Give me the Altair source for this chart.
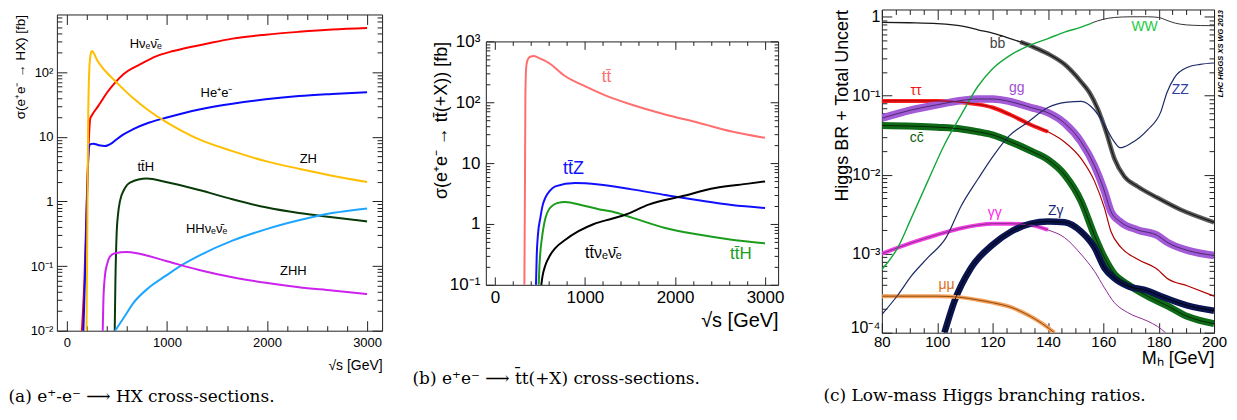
import math
import altair as alt
import pandas as pd

# ---------------- panel (a): e+e- -> HX cross-sections [fb] ----------------
a_hvv_x = [150, 175, 200, 218, 233, 250, 300, 332, 400, 482, 565, 731, 897, 1063, 1396, 1654, 1987, 2319, 2651, 3000]
a_hvv_y = [0.01, 0.06, 1.2, 8, 19, 21.5, 28, 33, 48, 69, 93, 132, 177, 212, 275, 330, 380, 420, 455, 480]
a_hee_x = [165, 185, 200, 212, 222, 235, 265, 320, 380, 450, 492, 558, 658, 824, 990, 1322, 1654, 1987, 2319, 2651, 3000]
a_hee_y = [0.01, 0.1, 1.0, 4.0, 7.0, 7.7, 7.8, 7.4, 7.2, 8.0, 9.0, 10.7, 13, 16.6, 19.7, 26.5, 32.5, 38, 42.7, 46, 49]
a_zh_x = [196, 205, 212, 222, 235, 250, 270, 300, 350, 400, 490, 658, 824, 990, 1322, 1654, 1987, 2319, 2651, 3000]
a_zh_y = [0.01, 0.5, 15, 90, 180, 212, 195, 155, 120, 98, 71, 40, 25, 17, 9.1, 6.0, 4.2, 3.2, 2.5, 2.0]
a_tth_x = [478, 485, 497, 512, 531, 570, 631, 798, 990, 1322, 1654, 1987, 2319, 2651, 3000]
a_tth_y = [0.01, 0.06, 0.31, 0.65, 1.02, 1.5, 1.96, 2.26, 2.0, 1.5, 1.08, 0.81, 0.66, 0.57, 0.49]
a_zhh_x = [358, 365, 380, 400, 430, 480, 598, 724, 990, 1322, 1654, 1987, 2319, 2651, 3000]
a_zhh_y = [0.01, 0.03, 0.07, 0.105, 0.14, 0.158, 0.165, 0.155, 0.12, 0.087, 0.067, 0.055, 0.047, 0.042, 0.037]
a_hhvv_x = [482, 591, 658, 824, 990, 1156, 1322, 1654, 1987, 2319, 2651, 3000]
a_hhvv_y = [0.01, 0.018, 0.026, 0.047, 0.071, 0.105, 0.145, 0.247, 0.37, 0.51, 0.66, 0.78]

a_label_text = ["Hνₑν̄ₑ", "He⁺e⁻", "ZH", "tt̄H", "HHνₑν̄ₑ", "ZHH"]
a_label_x = [788, 1495, 2413, 788, 1396, 2263]
a_label_y = [270, 47.5, 4.55, 3.43, 0.38, 0.085]
a_y_ticks = [0.01, 0.1, 1, 10, 100]
a_y_tick_labels = ["10⁻²", "10⁻¹", "1", "10", "10²"]
a_x_ticks = [0, 1000, 2000, 3000]

# ---------------- panel (b): e+e- -> tt(+X) cross-sections [fb] ----------------
b_tt_x = [328, 334, 339, 344, 352, 370, 400, 431, 480, 598, 783, 1005, 1226, 1522, 1891, 2261, 2630, 3000]
b_tt_y = [0.1, 3, 110, 280, 420, 520, 565, 578, 540, 443, 268, 182, 130, 91, 63, 46, 33, 26]
b_ttz_x = [457, 465, 480, 505, 530, 561, 610, 671, 893, 1153, 1522, 1891, 2261, 2630, 3000]
b_ttz_y = [0.1, 0.3, 0.7, 1.25, 2.0, 2.7, 3.5, 4.15, 4.7, 4.45, 3.7, 3.0, 2.45, 2.05, 1.83]
b_tth_x = [487, 495, 508, 523, 550, 579, 630, 690, 782, 968, 1153, 1300, 1522, 1891, 2261, 2630, 3000]
b_tth_y = [0.1, 0.2, 0.38, 0.59, 1.05, 1.5, 1.95, 2.2, 2.3, 2.03, 1.75, 1.6, 1.27, 0.86, 0.67, 0.55, 0.48]
b_ttvv_x = [516, 530, 561, 610, 671, 783, 929, 1100, 1298, 1448, 1707, 2076, 2446, 2815, 3000]
b_ttvv_y = [0.1, 0.14, 0.21, 0.30, 0.40, 0.55, 0.76, 1.0, 1.22, 1.42, 2.08, 2.85, 3.9, 4.6, 5.0]

b_label_text = ["tt̄", "tt̄Z", "tt̄νₑν̄ₑ", "tt̄H"]
b_label_x = [1239, 874, 1206, 2732]
b_label_y = [264, 7.9, 0.33, 0.32]
b_y_ticks = [0.1, 1, 10, 100, 1000]
b_y_tick_labels = ["10⁻¹", "1", "10", "10²", "10³"]
b_x_ticks = [0, 1000, 2000, 3000]

# ---------------- panel (c): low-mass Higgs branching ratios ----------------
c_bb_x = [80, 90, 100, 110, 115, 120, 125, 130, 135, 140, 146, 152, 155, 158, 161, 164, 167.6, 172.4, 179.6, 188, 200]
c_bb_y = [0.85, 0.84, 0.82, 0.75, 0.68, 0.62, 0.55, 0.48, 0.41, 0.34, 0.25, 0.15, 0.11, 0.068, 0.035, 0.016, 0.0095, 0.0071, 0.0051, 0.0036, 0.0025]
c_ww_x = [80, 85.8, 90.6, 96.6, 102.6, 108.6, 114.6, 120, 126.6, 133.8, 140, 146, 152, 156, 160, 164, 170, 176, 180, 183, 186, 190, 195, 200]
c_ww_y = [6.3e-4, 1.2e-3, 2.8e-3, 8.3e-3, 0.024, 0.057, 0.13, 0.22, 0.33, 0.44, 0.53, 0.64, 0.74, 0.84, 0.93, 0.98, 1.0, 1.0, 0.98, 0.90, 0.83, 0.79, 0.775, 0.77]
c_zz_x = [80, 85.8, 90.6, 96.6, 103.2, 108.6, 114.6, 120.6, 126, 132.6, 140, 147, 152, 156.8, 160.4, 164, 166, 170, 176, 180.8, 183, 185.7, 190.5, 195, 200]
c_zz_y = [1.7e-4, 3.0e-4, 5.2e-4, 8.9e-4, 1.6e-3, 4.0e-3, 8.7e-3, 0.018, 0.031, 0.046, 0.071, 0.083, 0.085, 0.066, 0.043, 0.026, 0.022, 0.025, 0.037, 0.063, 0.11, 0.17, 0.23, 0.25, 0.26]
c_tautau_x = [80, 90, 100, 108.6, 114.6, 120, 126.6, 133.8, 140, 146, 152, 156.8, 160.4, 162.8, 166.4, 172.4, 179.6, 183, 190.5, 200]
c_tautau_y = [0.086, 0.086, 0.086, 0.083, 0.078, 0.071, 0.057, 0.043, 0.035, 0.026, 0.016, 0.0083, 0.0038, 0.0019, 0.0012, 8.5e-4, 6.3e-4, 4.9e-4, 3.9e-4, 2.9e-4]
c_gg_x = [80, 90.6, 100, 108.6, 114.6, 120, 126.6, 133.8, 140, 146, 152, 156.8, 160.4, 162.8, 166.4, 172.4, 179.6, 183, 190.5, 200]
c_gg_y = [0.052, 0.066, 0.077, 0.087, 0.091, 0.091, 0.084, 0.071, 0.061, 0.045, 0.026, 0.013, 0.0062, 0.0034, 0.0025, 0.0020, 0.0017, 0.0014, 0.0011, 9.5e-4]
c_cc_x = [80, 100, 108.6, 114.6, 120, 126.6, 133.8, 140, 146, 152, 156.8, 160.4, 164, 168.8, 176, 183, 190.5, 200]
c_cc_y = [0.042, 0.040, 0.038, 0.035, 0.032, 0.026, 0.020, 0.0155, 0.010, 0.0046, 0.0017, 8.9e-4, 5.5e-4, 4.1e-4, 2.9e-4, 2.2e-4, 1.6e-4, 1.3e-4]
c_aa_x = [80, 90.6, 100, 108.6, 114.6, 120, 126.6, 133.8, 140, 146, 152, 156.8, 160.4, 164, 168.8, 176, 179.6, 182.5]
c_aa_y = [1.0e-3, 1.37e-3, 1.74e-3, 2.1e-3, 2.3e-3, 2.4e-3, 2.4e-3, 2.3e-3, 2.0e-3, 1.6e-3, 9.8e-4, 6.0e-4, 3.7e-4, 2.4e-4, 1.8e-4, 1.4e-4, 1.2e-4, 1.0e-4]
c_za_x = [102.6, 106.2, 112.2, 120, 126.6, 133.8, 140, 146, 152, 156.8, 160.4, 164, 168.8, 176, 180.8, 190.5, 200]
c_za_y = [1e-4, 2.5e-4, 6.6e-4, 1.3e-3, 1.9e-3, 2.4e-3, 2.55e-3, 2.5e-3, 1.9e-3, 1.2e-3, 6.6e-4, 4.9e-4, 3.9e-4, 3.4e-4, 2.9e-4, 2.2e-4, 1.9e-4]
c_mumu_x = [80, 100, 108.6, 114.6, 120, 126.6, 133.8, 138, 142.3]
c_mumu_y = [2.9e-4, 2.9e-4, 2.8e-4, 2.6e-4, 2.4e-4, 2.1e-4, 1.6e-4, 1.3e-4, 1.0e-4]

c_label_text = ["bb̄", "WW", "ττ", "gg", "ZZ", "cc̄", "γγ", "Zγ", "μμ"]
c_label_x = [121.8, 174.9, 92.3, 128.7, 187.8, 92.6, 120.8, 142.8, 103.4]
c_label_y = [0.447, 0.748, 0.115, 0.124, 0.119, 0.0296, 0.0033, 0.0035, 4.0e-4]
c_y_ticks = [1e-4, 1e-3, 1e-2, 1e-1, 1]
c_y_tick_labels = ["10⁻⁴", "10⁻³", "10⁻²", "10⁻¹", "1"]
c_x_ticks = [80, 100, 120, 140, 160, 180, 200]

# ---------------- styling / helpers ----------------
FONT = "Liberation Sans"
SERIF = "DejaVu Serif"
H = 324  # common group height; frames placed via custom y ranges


def long_df(series, colors, widths=None):
    rows = []
    for name, (xs, ys) in series.items():
        for x, y in zip(xs, ys):
            rows.append({"series": name, "x": x, "y": y, "col": colors[name],
                         "w": (widths or {}).get(name, 1)})
    return pd.DataFrame(rows)


def labels_df(texts, xs, ys, colors, sizes):
    return pd.DataFrame({"label": texts, "x": xs, "y": ys, "col": colors, "fs": sizes})


def log_ticks(lo, hi):
    vals = []
    e = math.floor(math.log10(lo))
    while 10 ** e <= hi * 1.0001:
        for m in range(1, 10):
            v = round(m * 10 ** e, 12)
            if lo * 0.9999 <= v <= hi * 1.0001:
                vals.append(v)
        e += 1
    return vals


def sup_label_expr(vals, labs):
    parts = []
    for v, l in zip(vals, labs):
        k = round(math.log10(v))
        parts.append(f"abs(log(datum.value)/LN10 - ({k})) < 0.01 ? '{l}'")
    return " : ".join(parts) + " : ''"


TEST_LOG = "abs(log(datum.value)/LN10 - round(log(datum.value)/LN10)) < 0.001"


def build_panel(lines, labels, W, x_dom, y_dom, y_range, x_major, x_all, x_test,
                y_major, y_major_labels, tick_major, tick_minor,
                xlab_fs, xlab_pad, ylab_fs, ylab_pad,
                x_title, x_title_fs, x_title_y, y_title, y_title_fs, y_title_x,
                caption, cap_x, cap_y, line_width, bands=None, centers=None, lhc=False,
                raise_bottom_label=False):
    rb, rt = y_range
    xs = alt.Scale(domain=x_dom, nice=False, zero=False)
    ys = alt.Scale(type="log", domain=y_dom, range=[rb, rt], nice=False)
    y_all = log_ticks(y_dom[0], y_dom[1])
    off_bottom = -(H - rb)

    def taxis(orient, offset, values, test):
        return alt.Axis(orient=orient, offset=offset, values=values, labels=False, title=None,
                        grid=False, domain=True, domainColor="#222", domainWidth=1,
                        ticks=True, tickColor="#222", tickWidth=1,
                        tickSize={"condition": {"test": test, "value": tick_major}, "value": tick_minor})

    tA = alt.Chart(lines).mark_line(strokeOpacity=0).encode(
        x=alt.X("x:Q", scale=xs, axis=taxis("top", -rb, x_all, x_test)),
        y=alt.Y("y:Q", scale=ys, axis=taxis("right", -W, y_all, TEST_LOG)),
        detail="series:N")
    tB = alt.Chart(lines).mark_line(strokeOpacity=0).encode(
        x=alt.X("x:Q", scale=xs, axis=taxis("bottom", -(H - rt), x_all, x_test)),
        y=alt.Y("y:Q", scale=ys, axis=taxis("left", -W, y_all, TEST_LOG)),
        detail="series:N")

    main_x = alt.Axis(orient="bottom", offset=off_bottom, values=x_major, format="d",
                      ticks=False, tickSize=0, domain=False, grid=False,
                      labelFontSize=xlab_fs, labelPadding=xlab_pad, labelFlush=False, labelOverlap=False,
                      title=x_title, titleFontSize=x_title_fs, titleAnchor="end", titleAlign="right",
                      titleY=x_title_y, titleBaseline="middle")
    y_kw = {}
    if raise_bottom_label:
        y_kw["labelBaseline"] = {"condition": {"test": f"datum.value < {y_dom[0] * 2}", "value": "alphabetic"},
                                 "value": "middle"}
    main_y = alt.Axis(orient="left", values=y_major, labelExpr=sup_label_expr(y_major, y_major_labels),
                      ticks=False, tickSize=0, domain=False, grid=False,
                      labelFontSize=ylab_fs, labelPadding=ylab_pad, labelFlush=False, labelOverlap=False,
                      title=y_title, titleFontSize=y_title_fs, titleAnchor="end", titleAngle=270,
                      titleAlign="right", titleX=y_title_x, titleBaseline="middle", **y_kw)

    layers = [tA, tB]
    if bands is not None:
        layers.append(alt.Chart(bands).mark_line(interpolate="monotone", strokeCap="butt", clip=True).encode(
            x=alt.X("x:Q", scale=xs, axis=None), y=alt.Y("y:Q", scale=ys, axis=None),
            color=alt.Color("col:N", scale=None),
            strokeWidth=alt.StrokeWidth("w:Q", scale=None), detail="series:N"))
    layers.append(alt.Chart(lines).mark_line(interpolate="monotone", clip=True).encode(
        x=alt.X("x:Q", scale=xs, axis=main_x), y=alt.Y("y:Q", scale=ys, axis=main_y),
        color=alt.Color("col:N", scale=None),
        strokeWidth=alt.StrokeWidth("w:Q", scale=None) if centers else alt.value(line_width),
        detail="series:N"))

    cap_axis = alt.Axis(orient="bottom", offset=off_bottom, labels=False, ticks=False, domain=False,
                        grid=False, title=caption, titleX=cap_x, titleY=cap_y, titleAlign="left",
                        titleAnchor="start", titleBaseline="alphabetic", titleFont=SERIF,
                        titleFontSize=17, titleFontWeight="normal", titleColor="#000")
    if lhc:
        y_lab_axis = alt.Axis(orient="right", labels=False, ticks=False, domain=False, grid=False,
                              title="LHC HIGGS XS WG 2013", titleAngle=270, titleAnchor="end",
                              titleAlign="right", titleBaseline="middle", titleX=6,
                              titleFontSize=7.5, titleFontStyle="italic", titleFontWeight="bold")
    else:
        y_lab_axis = None
    layers.append(alt.Chart(labels).mark_text(font=FONT).encode(
        x=alt.X("x:Q", scale=xs, axis=cap_axis), y=alt.Y("y:Q", scale=ys, axis=y_lab_axis),
        text="label:N", color=alt.Color("col:N", scale=None), size=alt.Size("fs:Q", scale=None)))

    return alt.layer(*layers).resolve_axis(x="independent", y="independent").properties(width=W, height=H)


# ---- panel (a)
a_colors = {"Hvv": "#ff0000", "Hee": "#0a0aff", "ZH": "#ffbf00", "ttH": "#083a08",
            "HHvv": "#1ea5ff", "ZHH": "#cc22ee"}
a_lines = long_df({"Hvv": (a_hvv_x, a_hvv_y), "Hee": (a_hee_x, a_hee_y), "ZH": (a_zh_x, a_zh_y),
                   "ttH": (a_tth_x, a_tth_y), "HHvv": (a_hhvv_x, a_hhvv_y), "ZHH": (a_zhh_x, a_zhh_y)},
                  a_colors)
a_labels = labels_df(a_label_text, a_label_x, a_label_y, ["#000"] * 6, [13] * 6)
lin_a = list(range(0, 3001, 200))
pa = build_panel(a_lines, a_labels, 326, [-100, 3150], [0.01, 780], (322, 5), a_x_ticks, lin_a,
                 "datum.value % 1000 == 0", a_y_ticks, a_y_tick_labels, 10, 5,
                 13, 6, 13, 4, "√s [GeV]", 14, 35, "σ(e⁺e⁻ → HX) [fb]", 13.5, -36,
                 "(a) e⁺-e⁻ ⟶ HX cross-sections.", -49, 71, 2)

# ---- panel (b)
b_colors = {"tt": "#ff6f6f", "ttZ": "#1010ff", "ttH": "#1c9c1c", "ttvv": "#000000"}
b_lines = long_df({"tt": (b_tt_x, b_tt_y), "ttZ": (b_ttz_x, b_ttz_y), "ttH": (b_tth_x, b_tth_y),
                   "ttvv": (b_ttvv_x, b_ttvv_y)}, b_colors)
b_labels = labels_df(b_label_text, b_label_x, b_label_y,
                     ["#ff6f6f", "#1010ff", "#000000", "#1c9c1c"], [17, 18, 16, 17])
pb = build_panel(b_lines, b_labels, 293, [-100, 3145], [0.1, 1000], (276, 32), b_x_ticks, lin_a,
                 "datum.value % 1000 == 0", b_y_ticks, b_y_tick_labels, 8, 4,
                 17, 5, 17, 6, "√s [GeV]", 20, 36, "σ(e⁺e⁻ → tt̄(+X)) [fb]", 18, -44,
                 "(b) e⁺e⁻ ⟶ t̄t(+X) cross-sections.", -74, 99, 2)

# ---- panel (c)
c_center_col = {"bb": "#1a1a1a", "ww": "#14a83a", "ww_hi": "#333333", "zz": "#1d2a66",
                "tautau": "#b00000", "gg": "#4a2a70", "cc": "#052805", "aa": "#8e2a95",
                "za": "#000010", "mumu": "#8a4a10"}
c_center_w = {"bb": 1.3, "ww": 1.4, "ww_hi": 1.0, "zz": 1.2, "tautau": 1.2, "gg": 1.0,
              "cc": 1.0, "aa": 1.0, "za": 1.0, "mumu": 1.0}
ww_lo = [(x, y) for x, y in zip(c_ww_x, c_ww_y) if x <= 156]
ww_hi = [(x, y) for x, y in zip(c_ww_x, c_ww_y) if x >= 156]
c_series = {"bb": (c_bb_x, c_bb_y),
            "ww": ([p[0] for p in ww_lo], [p[1] for p in ww_lo]),
            "ww_hi": ([p[0] for p in ww_hi], [p[1] for p in ww_hi]),
            "zz": (c_zz_x, c_zz_y), "tautau": (c_tautau_x, c_tautau_y), "gg": (c_gg_x, c_gg_y),
            "cc": (c_cc_x, c_cc_y), "aa": (c_aa_x, c_aa_y), "za": (c_za_x, c_za_y),
            "mumu": (c_mumu_x, c_mumu_y)}
c_lines = long_df(c_series, c_center_col, c_center_w)
band_style = {"bb": ("#5c5c5c", 4.5, 128, 200), "tautau": ("#ff2020", 4, 80, 142),
              "gg": ("#a35ad6", 7.5, 80, 200), "cc": ("#0f6a18", 7, 80, 200),
              "aa": ("#f040e0", 4, 80, 141), "za": ("#0a154f", 6.5, 80, 200),
              "mumu": ("#f6a15c", 4, 80, 200)}
band_rows = []
for name, (col, w, lo, hi) in band_style.items():
    xs_, ys_ = c_series[name]
    for x, y in zip(xs_, ys_):
        if lo <= x <= hi:
            band_rows.append({"series": name, "x": x, "y": y, "col": col, "w": w})
c_bands = pd.DataFrame(band_rows)
c_labels = labels_df(c_label_text, c_label_x, c_label_y,
                     ["#444444", "#22cc44", "#ee1111", "#a050d0", "#3040a0", "#106010",
                      "#ff22ee", "#1a2a7a", "#e07020"], [14] * 9)
lin_c = list(range(80, 201, 5))
pc = build_panel(c_lines, c_labels, 333, [80, 200], [1e-4, 1.237], (324, 0), c_x_ticks, lin_c,
                 "datum.value % 20 == 0", c_y_ticks, c_y_tick_labels, 10, 5,
                 15, 2, 16, 2, "Mₕ [GeV]", 18, 26, "Higgs BR + Total Uncert", 18, -39,
                 "(c) Low-mass Higgs branching ratios.", -59, 68, 1,
                 bands=c_bands, centers=True, lhc=True, raise_bottom_label=True)

chart = alt.hconcat(pa, pb, pc, spacing=104, bounds="flush",
                    padding={"left": 0, "top": 0, "right": 2, "bottom": 2}).configure_view(
    strokeWidth=0).configure_axis(labelFont=FONT, titleFont=FONT, labelColor="#000",
                                  titleColor="#000", titleFontWeight="normal").configure_text(font=FONT)

chart.save("out.html", embed_options={"renderer": "svg", "actions": False})
